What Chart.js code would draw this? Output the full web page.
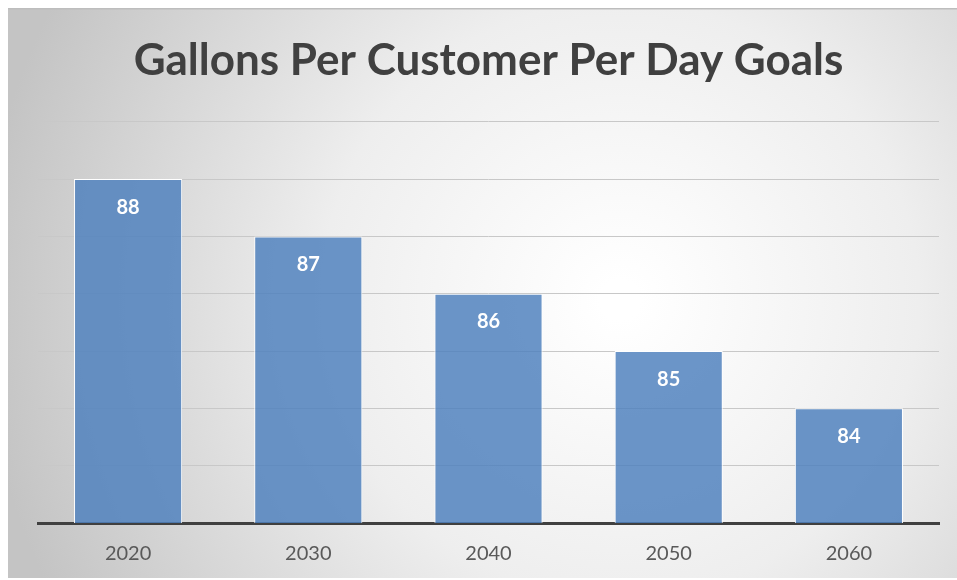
<!DOCTYPE html>
<html>
<head>
<meta charset="utf-8">
<script src="https://cdn.jsdelivr.net/npm/chart.js@4"></script>
<style>
  html, body { margin: 0; padding: 0; background: #fff; }
  #wrap { position: relative; width: 957px; height: 580px; }
</style>
</head>
<body>
<div id="wrap"><canvas id="goal-chart"></canvas></div>
<script>
const years = ['2020', '2030', '2040', '2050', '2060'];
const gallons = [88, 87, 86, 85, 84];
const yMin = 82;
const yMax = 89;

// fundo com gradiente radial, tipo Excel
const panelBg = {
    id: 'panelBg',
    beforeDraw(chart) {
        const c = chart.ctx;
        c.save();
        const g = c.createRadialGradient(620, 300, 20, 620, 300, 640);
        g.addColorStop(0, '#ffffff');
        g.addColorStop(0.45, '#eeeeee');
        g.addColorStop(1, '#c4c4c4');
        c.fillStyle = g;
        c.fillRect(8, 8, 949, 570);
        c.fillStyle = '#bdbdbd';
        c.fillRect(8, 8, 949, 1.5);
        c.restore();
    }
};

// rótulos dentro das barras
const barLabels = {
    id: 'barLabels',
    afterDatasetsDraw(chart) {
        const c = chart.ctx;
        const meta = chart.getDatasetMeta(0);
        c.save();
        c.fillStyle = '#ffffff';
        c.font = 'bold 20px Lato';
        c.textAlign = 'center';
        c.textBaseline = 'middle';
        meta.data.forEach((bar, i) => {
            c.fillText(String(gallons[i]), bar.x, bar.y + 28);
        });
        c.restore();
    }
};

new Chart(document.getElementById('goal-chart'), {
    type: 'bar',
    data: {
        labels: years,
        datasets: [{
            data: gallons,
            backgroundColor: 'rgba(79, 129, 189, 0.84)',
            borderColor: '#ffffff',
            borderWidth: 1,
            categoryPercentage: 0.6,
            barPercentage: 1.0
        }]
    },
    options: {
        responsive: true,
        maintainAspectRatio: false,
        animation: false,
        layout: { padding: { left: 38, right: 18, top: 0, bottom: 3 } },
        plugins: {
            legend: { display: false },
            tooltip: { enabled: false },
            title: {
                display: true,
                text: 'Gallons Per Customer Per Day Goals',
                color: '#404040',
                font: { family: 'Lato', size: 44, weight: 'bold' },
                padding: { top: 34, bottom: 35 }
            }
        },
        scales: {
            x: {
                grid: { display: false },
                border: { display: true, color: '#404040', width: 3 },
                ticks: {
                    color: '#595959',
                    font: { family: 'Lato', size: 20 },
                    padding: 11
                }
            },
            y: {
                min: yMin,
                max: yMax,
                ticks: { display: false, stepSize: 1 },
                border: { display: false },
                grid: { color: '#c8c8c8', lineWidth: 1, drawTicks: false }
            }
        }
    },
    plugins: [panelBg, barLabels]
});
</script>
</body>
</html>
